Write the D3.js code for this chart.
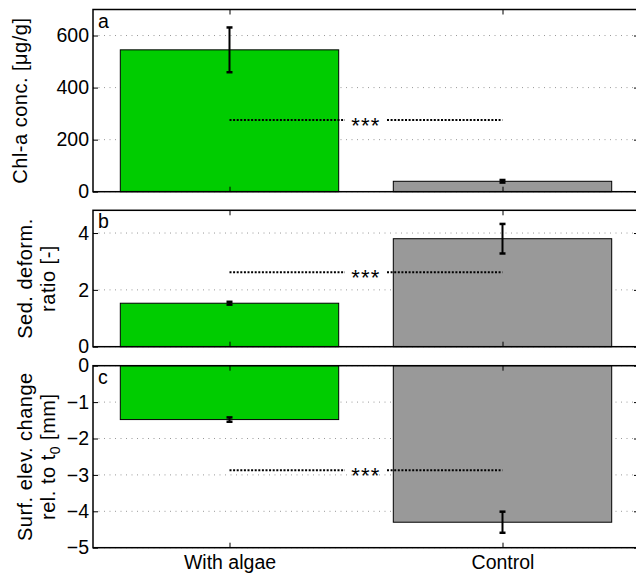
<!DOCTYPE html>
<html>
<head>
  <meta charset="utf-8">
  <script src="https://cdn.jsdelivr.net/npm/d3@7"></script>
  <style type="text/css">
    body {
      margin: 0;
      background: #fff;
    }
    svg {
      display: block;
      font-family: "Liberation Sans", Arial, Helvetica, sans-serif;
    }
    .grid line {
      stroke: #999;
      stroke-dasharray: 1, 4.5;
    }
    .axis path, .axis line {
      stroke: #000;
    }
  </style>
</head>
<body>
  <svg id="chart" width="636" height="576"></svg>
  <script type="text/javascript">

  // groups on the x axis
  const groups = ["With algae", "Control"];
  const barColors = ["#00cc00", "#999999"];

  // a: Chl-a concentration
  const chlMean = [545, 40];
  const chlErr = [86, 5];
  const chlTicks = [0, 200, 400, 600];

  // b: sediment deformation ratio
  const defMean = [1.53, 3.80];
  const defErr = [0.05, 0.52];
  const defTicks = [0, 2, 4];

  // c: surface elevation change
  const elevMean = [-1.48, -4.30];
  const elevErr = [0.06, 0.29];
  const elevTicks = [0, -1, -2, -3, -4, -5];

  // level of the *** significance bracket in each panel
  const sigLevel = [275, 2.62, -2.87];

  const panels = [
    {tag: "a", mean: chlMean, err: chlErr, ticks: chlTicks, domain: [0, 700],
     top: 9.5, bottom: 191.7, label: ["Chl-a conc. [μg/g]"]},
    {tag: "b", mean: defMean, err: defErr, ticks: defTicks, domain: [0, 4.8],
     top: 210.3, bottom: 346.7, label: ["Sed. deform.", "ratio [-]"]},
    {tag: "c", mean: elevMean, err: elevErr, ticks: elevTicks, domain: [-5, 0],
     top: 365.7, bottom: 547.7, label: ["Surf. elev. change", "rel. to t<sub>0</sub> [mm]"]}
  ];

  const svg = d3.select("#chart");
  const left = 93, right = 639;
  const x = d3.scaleLinear().domain([0.5, 2.5]).range([left, right]);
  const barW = 0.8;
  const fs = 19.5;
  const fmt = (d) => d < 0 ? "\u2212" + Math.abs(d) : String(d);

  panels.forEach((p, pi) => {
    const y = d3.scaleLinear().domain(p.domain).range([p.bottom, p.top]);
    const g = svg.append("g");

    // dotted grid
    g.append("g").attr("class", "grid")
      .selectAll("line").data(p.ticks).enter().append("line")
      .attr("x1", left).attr("x2", right)
      .attr("y1", (d) => y(d)).attr("y2", (d) => y(d));

    // bars
    g.selectAll("rect.bar").data(p.mean).enter().append("rect")
      .attr("class", "bar")
      .attr("x", (d, i) => x(i + 1 - barW / 2))
      .attr("width", x(1 + barW / 2) - x(1 - barW / 2))
      .attr("y", (d) => Math.min(y(d), y(0)))
      .attr("height", (d) => Math.abs(y(d) - y(0)))
      .attr("fill", (d, i) => barColors[i])
      .attr("stroke", "#000").attr("stroke-width", 1);

    // error bars
    const eb = g.selectAll("g.eb").data(p.mean).enter().append("g");
    eb.append("line")
      .attr("x1", (d, i) => x(i + 1)).attr("x2", (d, i) => x(i + 1))
      .attr("y1", (d, i) => y(d - p.err[i])).attr("y2", (d, i) => y(d + p.err[i]))
      .attr("stroke", "#000").attr("stroke-width", 2);
    [-1, 1].forEach((s) => {
      eb.append("line")
        .attr("x1", (d, i) => x(i + 1) - 3).attr("x2", (d, i) => x(i + 1) + 3)
        .attr("y1", (d, i) => y(d + s * p.err[i])).attr("y2", (d, i) => y(d + s * p.err[i]))
        .attr("stroke", "#000").attr("stroke-width", 2.5);
    });

    // significance bracket
    const ys = y(sigLevel[pi]);
    const xm = x(1.5);
    [[x(1), xm - 21], [xm + 21, x(2)]].forEach((seg) => {
      g.append("line")
        .attr("x1", seg[0]).attr("x2", seg[1]).attr("y1", ys).attr("y2", ys)
        .attr("stroke", "#000").attr("stroke-width", 2)
        .attr("stroke-dasharray", "2,1.6");
    });
    g.append("text").attr("x", xm).attr("y", ys + 12.5)
      .attr("text-anchor", "middle").attr("font-size", 22)
      .attr("letter-spacing", 1.2)
      .text("***");

    // axes box
    g.append("rect").attr("x", left).attr("y", p.top)
      .attr("width", right - left).attr("height", p.bottom - p.top)
      .attr("fill", "none").attr("stroke", "#000").attr("stroke-width", 1.5);

    const yAxis = d3.axisLeft(y).tickValues(p.ticks).tickFormat(fmt)
      .tickSizeInner(-5).tickSizeOuter(0).tickPadding(4);
    const ga = g.append("g").attr("class", "axis")
      .attr("transform", `translate(${left},0)`).call(yAxis);
    ga.select(".domain").remove();
    ga.selectAll("text").attr("font-size", fs).attr("fill", "#000");

    const yAxisR = d3.axisRight(y).tickValues(p.ticks).tickFormat("")
      .tickSizeInner(-5).tickSizeOuter(0);
    g.append("g").attr("class", "axis")
      .attr("transform", `translate(${right},0)`).call(yAxisR)
      .select(".domain").remove();

    const xTop = d3.axisTop(x).tickValues([1, 2]).tickFormat("")
      .tickSizeInner(-5).tickSizeOuter(0);
    g.append("g").attr("class", "axis")
      .attr("transform", `translate(0,${p.top})`).call(xTop)
      .select(".domain").remove();

    const xBot = d3.axisBottom(x).tickValues([1, 2])
      .tickFormat((d) => pi === 2 ? groups[d - 1] : "")
      .tickSizeInner(-5).tickSizeOuter(0).tickPadding(7);
    const gb = g.append("g").attr("class", "axis")
      .attr("transform", `translate(0,${p.bottom})`).call(xBot);
    gb.select(".domain").remove();
    gb.selectAll("text").attr("font-size", fs).attr("fill", "#000");

    // panel tag
    g.append("text").attr("x", left + 5).attr("y", p.top + 18)
      .attr("font-size", fs).text(p.tag);

    // y label
    const cy = (p.top + p.bottom) / 2;
    const n = p.label.length;
    p.label.forEach((t, li) => {
      const bx = n === 1 ? 27 : 32 + li * 23;
      const txt = g.append("text")
        .attr("transform", `translate(${bx},${cy}) rotate(-90)`)
        .attr("text-anchor", "middle").attr("font-size", 20)
        .attr("letter-spacing", 0.5);
      if (t.includes("<sub>")) {
        const parts = t.split(/<sub>|<\/sub>/);
        txt.append("tspan").text(parts[0]);
        txt.append("tspan").attr("font-size", 14).attr("dy", 5).text(parts[1]);
        txt.append("tspan").attr("dy", -5).text(parts[2]);
      } else {
        txt.text(t);
      }
    });
  });
  </script>
</body>
</html>
